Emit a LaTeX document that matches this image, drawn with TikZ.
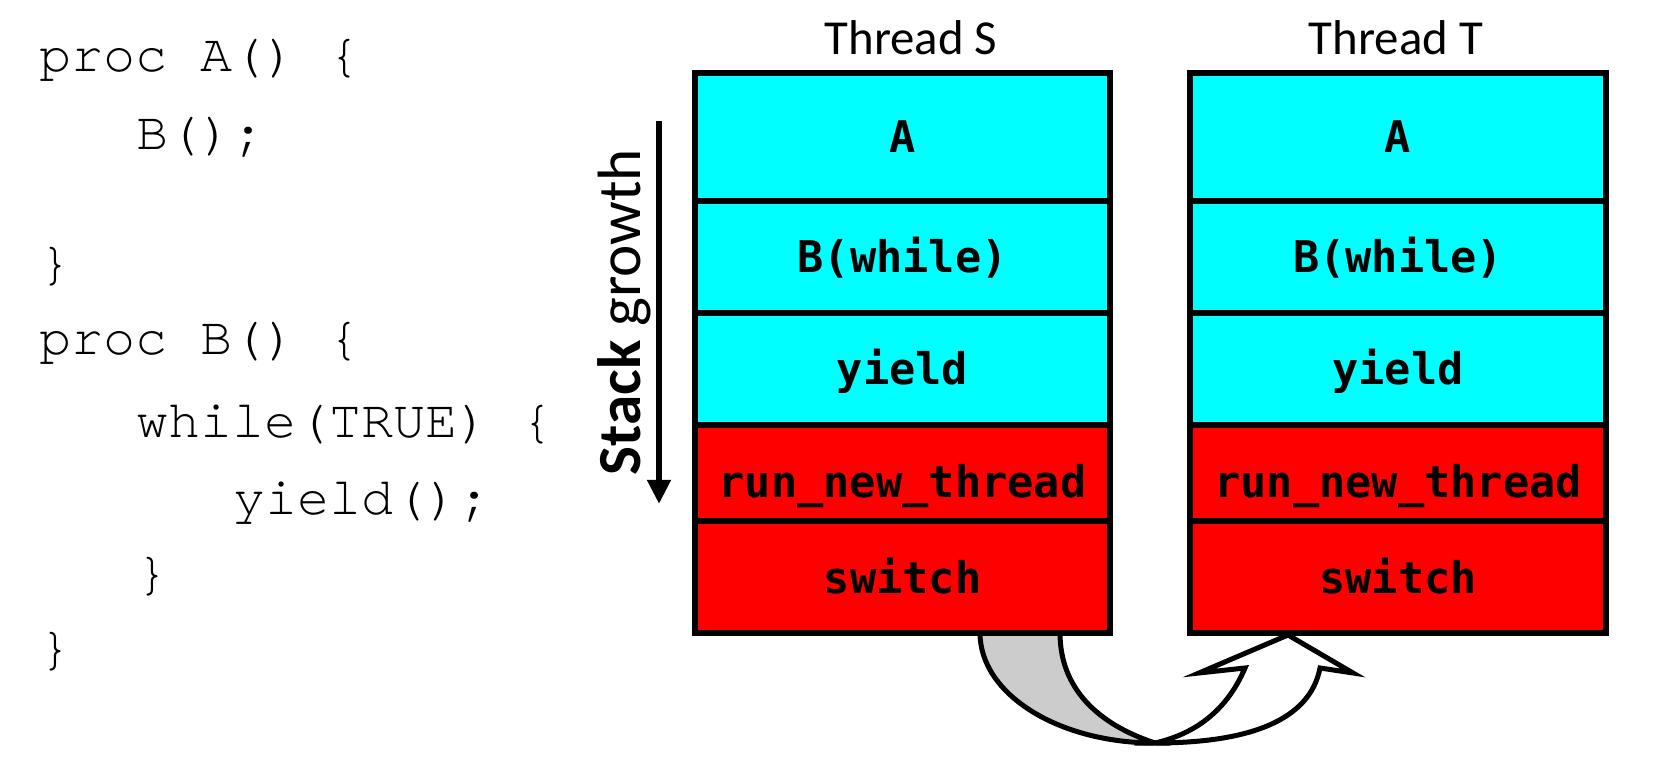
\documentclass[tikz,border=0pt]{standalone}
\usepackage{fontspec}
\setmainfont{Carlito}
\newfontfamily\codefont{TeX Gyre Cursor}
\newfontfamily\framefont{DejaVu Sans Mono}
\usetikzlibrary{arrows.meta,positioning}
\definecolor{usercyan}{RGB}{0,255,255}
\definecolor{kernelred}{RGB}{255,0,0}
\definecolor{bandgray}{RGB}{204,204,204}

\begin{document}
\begin{tikzpicture}[x=0.01cm,y=-0.01cm,code/.style={anchor=base west,inner sep=0pt,font=\codefont\fontsize{15.2}{18}\selectfont},frame/.style={draw,line width=0.06cm,minimum width=4.155cm,inner sep=0pt,text height=0.32cm,text depth=0pt,font=\framefont\bfseries\fontsize{12.4}{15}\selectfont},user/.style={frame,fill=usercyan},kernel/.style={frame,fill=kernelred},title/.style={anchor=base,font=\fontsize{13.9}{16}\selectfont},band/.style={line width=0.05cm,line join=miter}]
\useasboundingbox (0,0) rectangle (1661,771);
\node[code] (l1) at (39,72) {proc A() \{};\node[code] (l2) at (136,150) {B();};\node[code] (l3) at (39,280) {\}};
\node[code] (l4) at (39,355) {proc B() \{};\node[code] (l5) at (136,438) {while(TRUE) \{};\node[code] (l6) at (233,515) {yield();};
\node[code] (l7) at (136,590) {\}};\node[code] (l8) at (39,665) {\}};
\coordinate (gtop) at (659,121);\coordinate (gbot) at (659,504);
\draw[line width=0.06cm,-{Triangle[length=0.24cm,width=0.224cm]}] (gtop)--(gbot);
\node[rotate=90,anchor=base,inner sep=0pt,font=\fontsize{17.4}{20}\selectfont] (growth) at (640,312) {\textbf{Stack} growth};
\draw[band,fill=bandgray] (980,633) .. controls (980,694) and (1058,743) .. (1155,743) .. controls (1100,725) and (1060,690) .. (1060,633) -- cycle;
\draw[band,fill=white] (1155,743) .. controls (1250,743) and (1310,720) .. (1320,668) -- (1353,673) -- (1288,635) -- (1199,673) -- (1245,668) .. controls (1225,715) and (1190,735) .. (1155,743) -- cycle;
\foreach \tid/\x/\tx in {S/902.5/911,T/1398/1396}{
\node[title] (title\tid) at (\tx,55) {Thread \tid};
\node[user,minimum height=1.28cm] (A\tid) at (\x,137) {A};\node[user,minimum height=1.12cm] (B\tid) at (\x,257) {B(while)};
\node[user,minimum height=1.12cm] (Y\tid) at (\x,369) {yield};\node[kernel,minimum height=0.96cm,text height=0.48cm] (R\tid) at (\x,473) {run\_new\_thread};
\node[kernel,minimum height=1.12cm] (W\tid) at (\x,577) {switch};
}
\end{tikzpicture}
\end{document}
